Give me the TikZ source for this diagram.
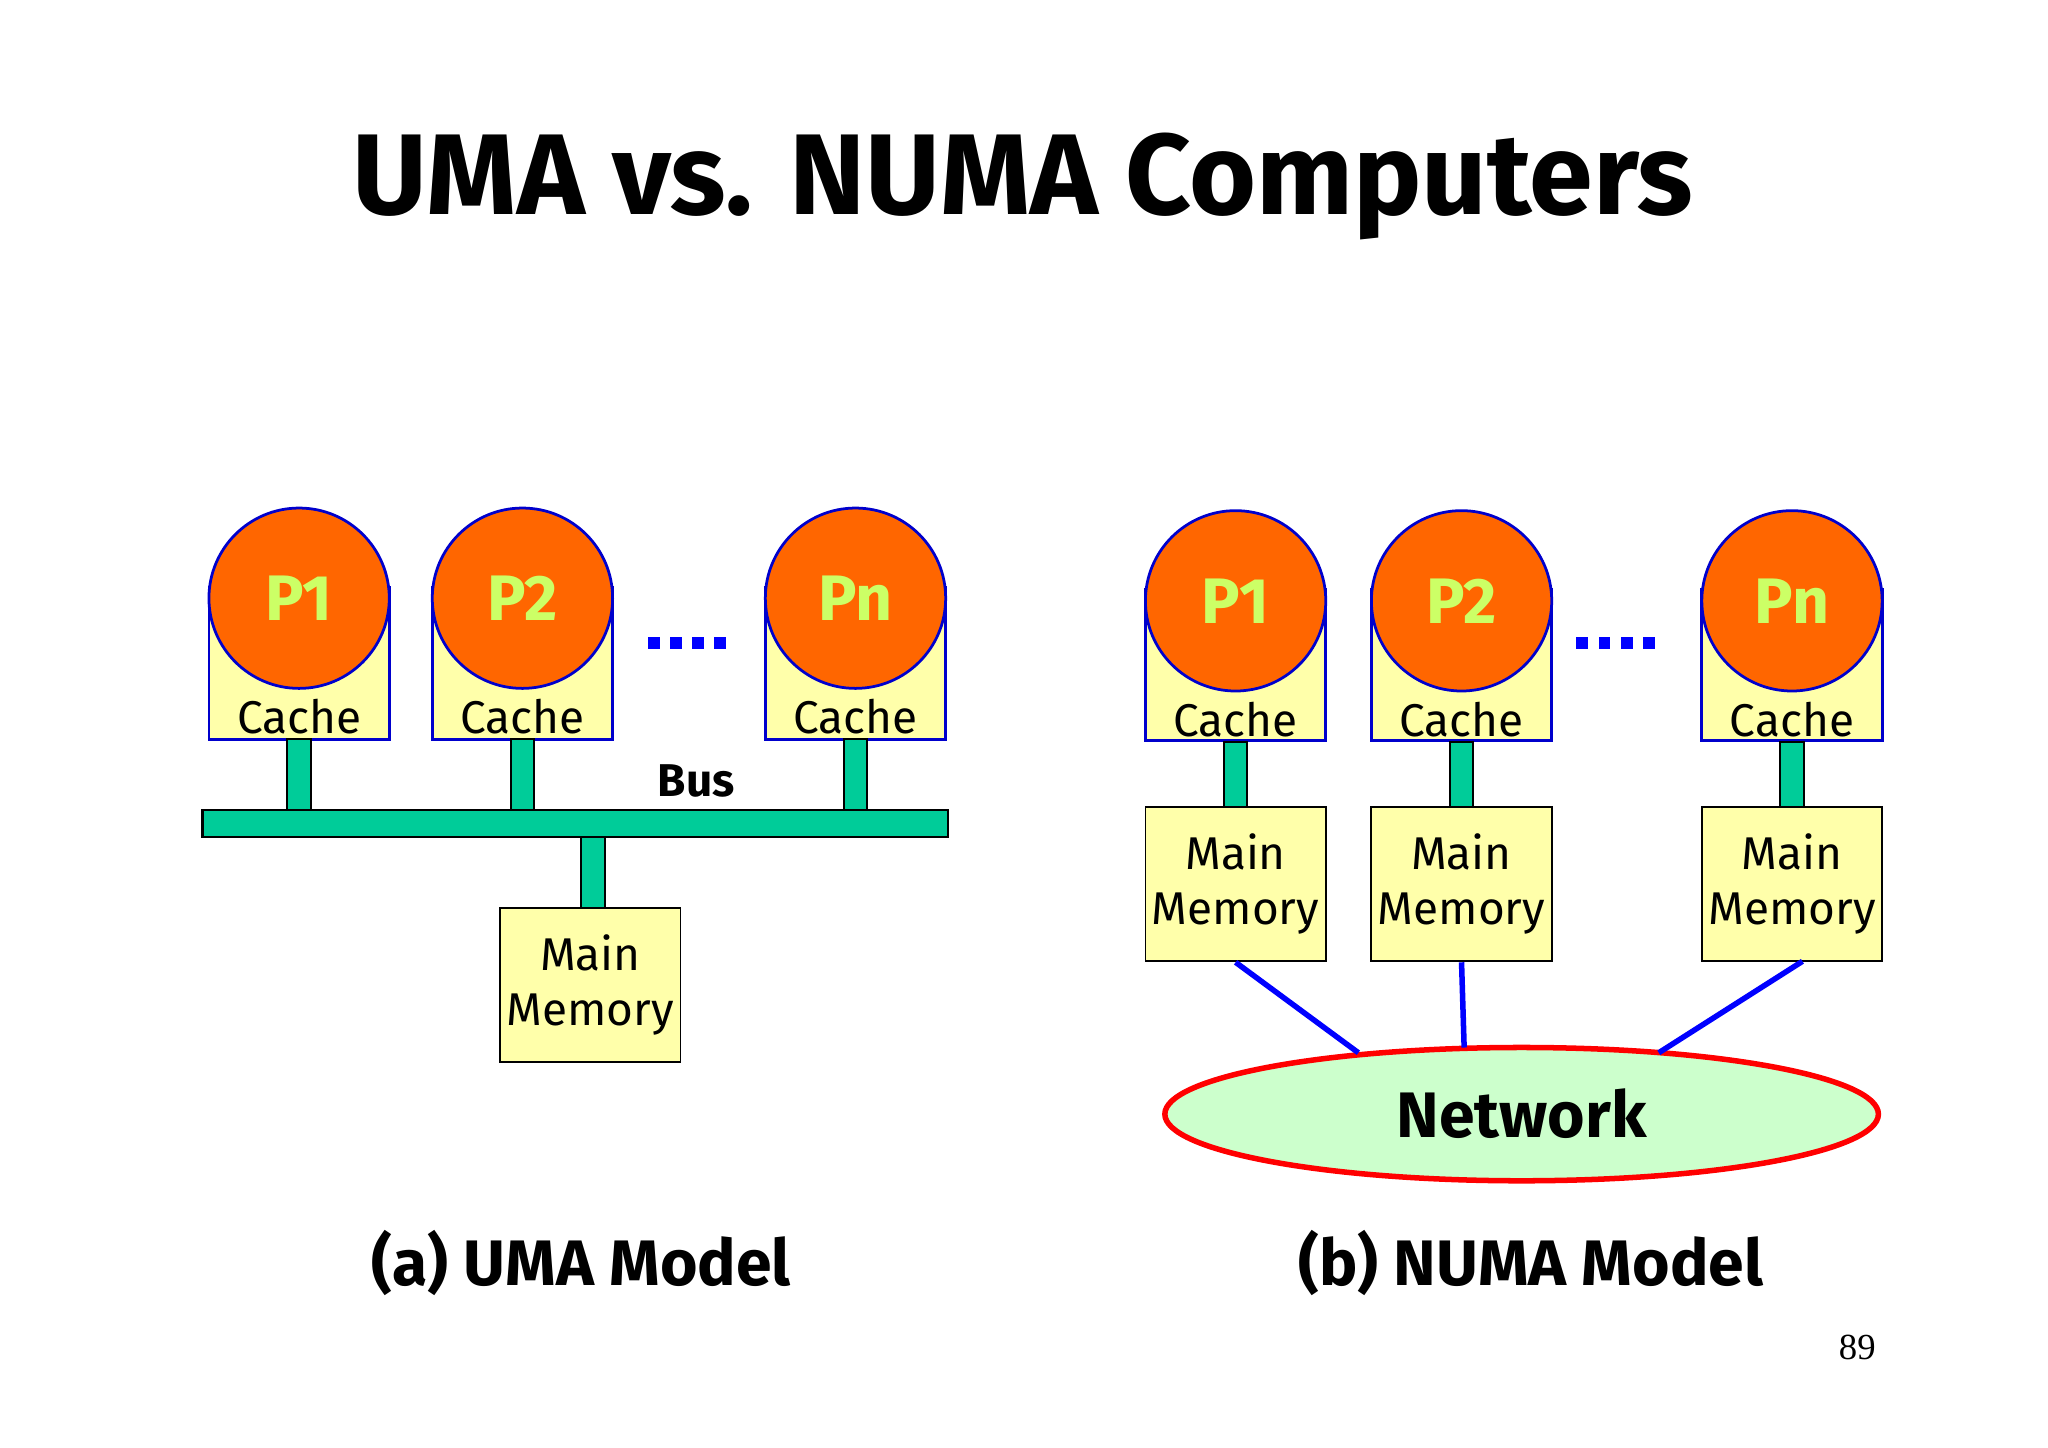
\documentclass[tikz,border=0pt]{standalone}
\usetikzlibrary{shapes.geometric}
\usepackage{fontspec}
\setmainfont{Fira Sans}
\newfontfamily\numfont{Liberation Serif}
\definecolor{porange}{HTML}{FF6600}
\definecolor{ptext}{HTML}{CCFF66}
\definecolor{bgreen}{HTML}{00CC99}
\definecolor{cyel}{HTML}{FFFFAA}
\begin{document}
\begin{tikzpicture}[x=0.01cm,y=-0.01cm,
 cache/.style={draw=blue!80!black,fill=cyel,minimum width=1.38cm,minimum height=1.16cm,inner sep=0,line width=0.6pt},
 proc/.style={circle,draw=blue!80!black,fill=porange,minimum size=1.38cm,inner sep=0,font=\bfseries\fontsize{14}{16}\selectfont,text=ptext,line width=0.6pt},
 mem/.style={draw=black,fill=cyel,minimum width=1.38cm,minimum height=1.18cm,inner sep=0,align=center,font=\fontsize{10}{12}\selectfont},
 stem/.style={draw=black,fill=bgreen,line width=0.5pt},
 dots/.style={text=blue,font=\bfseries\fontsize{18}{18}\selectfont},
 lab/.style={font=\fontsize{10}{12}\selectfont},
 link/.style={draw=blue,line width=1.2pt}]
\useasboundingbox (0,0) rectangle (1568,1108);
\node[font=\bfseries\fontsize{25}{30}\selectfont] (title) at (783,143) {UMA vs. NUMA Computers};
% UMA
\foreach \n/\x/\t in {a/229/P1,b/400/P2,c/655/Pn}{
 \node[cache] (uc\n) at (\x,508) {};
 \node[lab] (ucl\n) at (\x,549) {Cache};
 \node[proc] (up\n) at (\x,458) {\t};
 \filldraw[stem] (\x-9,566) rectangle (\x+9,620);
}
\foreach \i in {0,1,2,3}{\fill[blue] (496+\i*17,488) rectangle +(9,9);}
\filldraw[stem] (155,620) rectangle (726,641);
\filldraw[stem] (445,641) rectangle (463,695);
\node[mem] (um) at (452,754) {Main\\Memory};
\node[font=\bfseries\fontsize{10}{12}\selectfont] (bus) at (533,598) {Bus};
% NUMA
\node[draw=red,line width=1.2pt,fill=green!20,ellipse,minimum width=5.46cm,minimum height=1.02cm,font=\bfseries\fontsize{14}{16}\selectfont] (net) at (1165,853) {Network};
\foreach \n/\x/\t in {a/946/P1,b/1119/P2,c/1372/Pn}{
 \node[cache] (nc\n) at (\x,509) {};
 \node[lab] (ncl\n) at (\x,551) {Cache};
 \node[proc] (np\n) at (\x,460) {\t};
 \filldraw[stem] (\x-9,568) rectangle (\x+9,618);
 \node[mem] (nm\n) at (\x,677) {Main\\Memory};
}
\foreach \i in {0,1,2,3}{\fill[blue] (1207+\i*17,488) rectangle +(9,9);}
\draw[link] (nma.south) -- (1040,806);
\draw[link] (nmb.south) -- (1121,802);
\draw[link] (1380,736) -- (1270,806);
\node[font=\bfseries\fontsize{14}{16}\selectfont] (la) at (445,967) {(a) UMA Model};
\node[font=\bfseries\fontsize{14}{16}\selectfont] (lb) at (1172,967) {(b) NUMA Model};
\node[font=\numfont\fontsize{8}{10}\selectfont] (pg) at (1422,1032) {89};
\end{tikzpicture}
\end{document}
